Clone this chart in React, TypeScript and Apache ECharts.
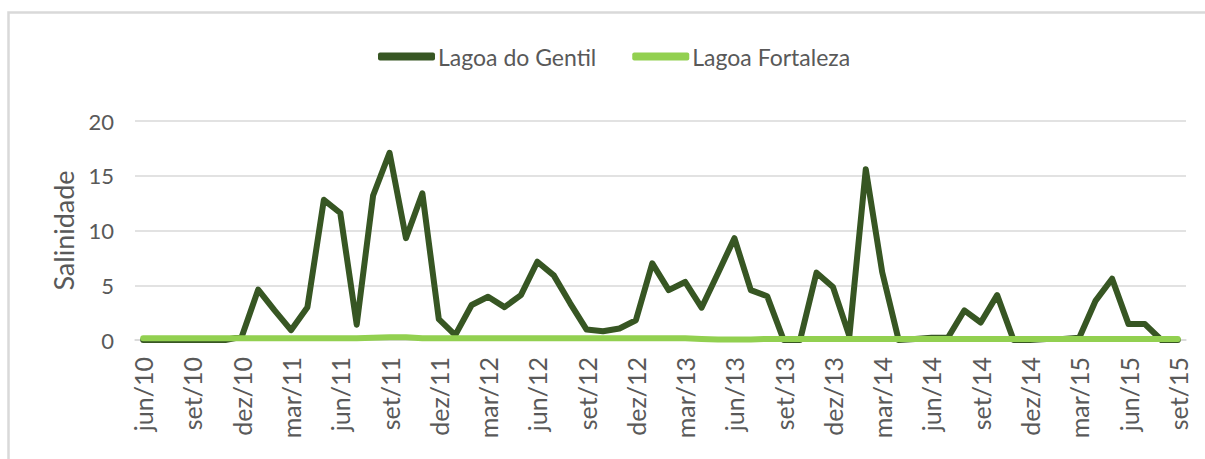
import React, { useEffect, useRef } from "react";
import * as echarts from "echarts";

const months: string[] = [
  "jun/10", "jul/10", "ago/10", "set/10", "out/10", "nov/10", "dez/10",
  "jan/11", "fev/11", "mar/11", "abr/11", "mai/11", "jun/11", "jul/11", "ago/11", "set/11", "out/11", "nov/11", "dez/11",
  "jan/12", "fev/12", "mar/12", "abr/12", "mai/12", "jun/12", "jul/12", "ago/12", "set/12", "out/12", "nov/12", "dez/12",
  "jan/13", "fev/13", "mar/13", "abr/13", "mai/13", "jun/13", "jul/13", "ago/13", "set/13", "out/13", "nov/13", "dez/13",
  "jan/14", "fev/14", "mar/14", "abr/14", "mai/14", "jun/14", "jul/14", "ago/14", "set/14", "out/14", "nov/14", "dez/14",
  "jan/15", "fev/15", "mar/15", "abr/15", "mai/15", "jun/15", "jul/15", "ago/15", "set/15",
];

const lagoaDoGentil: number[] = [
  0, 0, 0, 0, 0, 0, 0.3,
  4.6, 2.7, 0.9, 3.0, 12.8, 11.6, 1.4, 13.2, 17.1, 9.3, 13.4, 1.9,
  0.45, 3.2, 3.95, 3.0, 4.1, 7.15, 5.9, 3.35, 0.95, 0.8, 1.05, 1.8,
  7.0, 4.55, 5.3, 2.95, 6.1, 9.3, 4.55, 4.0, 0, 0, 6.15, 4.85,
  0.35, 15.6, 6.2, 0, 0.1, 0.2, 0.2, 2.7, 1.6, 4.1, 0, 0,
  0.1, 0.1, 0.2, 3.6, 5.6, 1.45, 1.45, 0, 0,
];

const lagoaFortaleza: number[] = [
  0.15, 0.15, 0.15, 0.15, 0.15, 0.15, 0.15,
  0.15, 0.15, 0.15, 0.15, 0.15, 0.15, 0.15, 0.2, 0.25, 0.25, 0.15, 0.15,
  0.15, 0.15, 0.15, 0.15, 0.15, 0.15, 0.15, 0.15, 0.15, 0.15, 0.15, 0.15,
  0.15, 0.15, 0.15, 0.1, 0.05, 0.05, 0.05, 0.1, 0.1, 0.1, 0.1, 0.1,
  0.1, 0.1, 0.1, 0.1, 0.1, 0.1, 0.1, 0.1, 0.1, 0.1, 0.1, 0.1,
  0.1, 0.1, 0.1, 0.1, 0.1, 0.1, 0.1, 0.1, 0.1,
];

const yTicks = { min: 0, max: 20, interval: 5 };

const FONT = "Lato, 'Open Sans', sans-serif";
const TEXT = "#595959";

export default function App() {
  const ref = useRef<HTMLDivElement>(null);
  useEffect(() => {
    if (!ref.current) return;
    const chart = echarts.init(ref.current, undefined, { renderer: "svg" });
    chart.setOption({
      animation: false,
      backgroundColor: "#ffffff",
      textStyle: { fontFamily: FONT },
      graphic: [
        {
          type: "rect",
          shape: { x: 8.5, y: 12.5, width: 1400, height: 600 },
          style: { fill: "none", stroke: "#d9d9d9", lineWidth: 2.5 },
          silent: true,
          z: -10,
        },
      ],
      legend: {
        left: 378,
        top: 45,
        padding: 0,
        itemWidth: 57,
        itemHeight: 8,
        itemGap: 36,
        icon: "roundRect",
        textStyle: { fontFamily: FONT, fontSize: 23, color: TEXT, padding: [0, 0, 0, -2] },
        data: ["Lagoa do Gentil", "Lagoa Fortaleza"],
      },
      grid: { left: 135, right: 19, top: 121, bottom: 119, containLabel: false },
      xAxis: {
        type: "category",
        data: months,
        boundaryGap: true,
        axisLine: { show: true, lineStyle: { color: "#d9d9d9", width: 1.5 } },
        axisTick: { show: false },
        axisLabel: {
          interval: 2,
          rotate: 90,
          margin: 17,
          fontFamily: FONT,
          fontSize: 25,
          color: TEXT,
        },
        splitLine: { show: false },
      },
      yAxis: {
        type: "value",
        min: yTicks.min,
        max: yTicks.max,
        interval: yTicks.interval,
        name: "Salinidade",
        nameLocation: "middle",
        nameRotate: 90,
        nameGap: 58,
        nameTextStyle: { fontFamily: FONT, fontSize: 27, color: TEXT },
        axisLine: { show: false },
        axisTick: { show: false },
        axisLabel: { margin: 21, fontFamily: FONT, fontSize: 22, color: TEXT },
        splitLine: { lineStyle: { color: "#d9d9d9", width: 1.5 } },
      },
      series: [
        {
          name: "Lagoa do Gentil",
          type: "line",
          data: lagoaDoGentil,
          symbol: "none",
          color: "#375623",
          lineStyle: { color: "#375623", width: 6, cap: "round", join: "round" },
        },
        {
          name: "Lagoa Fortaleza",
          type: "line",
          data: lagoaFortaleza,
          symbol: "none",
          color: "#92d050",
          lineStyle: { color: "#92d050", width: 6, cap: "round", join: "round" },
        },
      ],
    });
    return () => chart.dispose();
  }, []);
  return (
    <div
      ref={ref}
      style={{ position: "fixed", left: 0, top: 0, width: 1205, height: 459 }}
    />
  );
}
